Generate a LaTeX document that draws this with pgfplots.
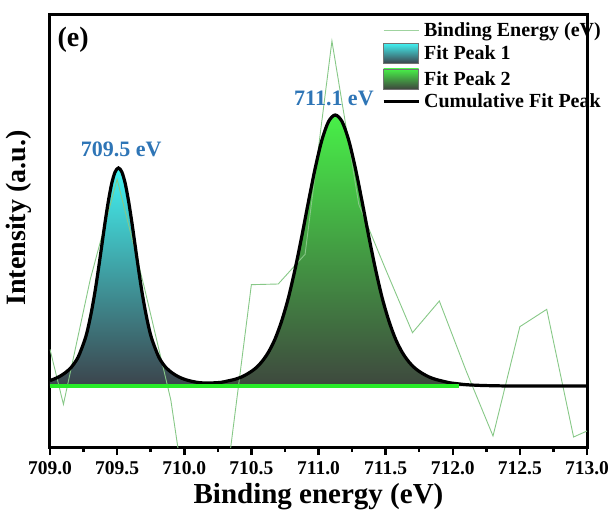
\documentclass[border=0pt]{standalone}
\usepackage{fontspec}
\setmainfont{Liberation Serif}
\usepackage{pgfplots}
\pgfplotsset{compat=1.18}
\definecolor{rawc}{RGB}{135,200,135}
\definecolor{p1top}{RGB}{66,242,242}
\definecolor{p1bot}{RGB}{60,68,76}
\definecolor{p2top}{RGB}{72,240,72}
\definecolor{p2bot}{RGB}{62,72,62}
\definecolor{basec}{RGB}{40,235,40}
\definecolor{lblc}{RGB}{46,117,182}
\colorlet{p1mid}{p1top!68!p1bot}
\colorlet{p2mid}{p2top!70!p2bot}
\begin{document}
\begin{tikzpicture}
\begin{axis}[
  scale only axis, width=537pt, height=432pt,
  xmin=709, xmax=713, ymin=-183, ymax=1113,
  enlargelimits=false, clip=true,
  xtick={709,709.5,...,713}, minor x tick num=1,
  ytick=\empty, xtick pos=bottom, tick align=outside,
  major tick length=8pt, minor tick length=5pt,
  tick style={line width=2.5pt, black},
  axis line style={line width=3pt},
  /pgf/number format/.cd, fixed, fixed zerofill, precision=1, assume math mode=true,
  /pgfplots/.cd,
  xticklabel style={font=\bfseries\fontsize{19.5}{19.5}\selectfont, yshift=-3pt},
  xlabel={Binding energy (eV)},
  ylabel={Intensity (a.u.)},
  x label style={font=\bfseries\fontsize{29}{29}\selectfont, at={(axis description cs:0.5,-0.116)}, anchor=center},
  y label style={font=\bfseries\fontsize{28}{28}\selectfont, at={(axis description cs:-0.058,0.53)}, anchor=center},
  legend cell align=left,
  legend style={draw=none, fill=none, at={(rel axis cs:0.618,0.983)}, anchor=north west,
    font=\bfseries\fontsize{20}{20}\selectfont, row sep=5pt, column sep=4pt, inner sep=0pt,
    nodes={inner sep=0pt}},
]
% Fit peak 1 (filled)
\addplot[draw=none, top color=p1top, middle color=p1mid, bottom color=p1bot, smooth, forget plot] coordinates {
(709.00,16.5) (709.01,17.7) (709.06,26.2) (709.11,38.6) (709.16,56.9) (709.21,87.0) (709.26,139.3) (709.285,177.2) (709.31,225.6) (709.335,282.5) (709.36,348.6) (709.385,419.2) (709.41,490.5) (709.435,555.2) (709.46,608.2) (709.485,642.2) (709.51,654.0) (709.535,642.2) (709.56,608.2) (709.585,555.2) (709.61,490.5) (709.635,419.2) (709.66,348.6) (709.685,282.5) (709.71,225.6) (709.735,177.2) (709.76,139.3) (709.81,87.0) (709.86,56.9) (709.91,38.6) (709.96,26.2) (710.01,17.7) (710.06,11.8) (710.11,7.2) (710.21,2.6) (710.31,0.7) (710.40,0)
} \closedcycle;
% Fit peak 2 (filled)
\addplot[draw=none, top color=p2top, middle color=p2mid, bottom color=p2bot, smooth, forget plot] coordinates {
(709.00,0) (709.925,0.7) (710.025,1.5) (710.125,3.3) (710.175,4.9) (710.225,7.3) (710.275,9.8) (710.325,14.6) (710.375,19.5) (710.425,26.8) (710.475,37.4) (710.525,51.2) (710.575,71.5) (710.625,100.0) (710.675,139.8) (710.725,194.3) (710.775,263.4) (710.825,349.6) (710.875,448.0) (710.925,552.8) (710.975,652.8) (711.025,737.4) (711.075,793.5) (711.125,813.0) (711.175,793.5) (711.225,737.4) (711.275,652.8) (711.325,552.8) (711.375,448.0) (711.425,349.6) (711.475,263.4) (711.525,194.3) (711.575,139.8) (711.625,100.0) (711.675,71.5) (711.725,51.2) (711.775,37.4) (711.825,26.8) (711.875,19.5) (711.925,14.6) (711.975,9.8) (712.025,7.3) (712.075,4.9) (712.125,3.3) (712.225,1.5) (712.325,0.7) (712.45,0)
} \closedcycle;
% Raw data
\addplot[rawc, line width=0.9pt, forget plot] coordinates {
(709.0,110) (709.1,-55) (709.3,320) (709.5,620) (709.7,300) (709.9,-42) (710.1,-585) (710.3,-330) (710.5,304) (710.7,306) (710.9,395) (711.1,1035) (711.3,545) (711.5,350) (711.7,160) (711.9,255) (712.1,45) (712.3,-150) (712.5,178) (712.7,230) (712.9,-153) (713.0,-135)
};
% Cumulative fit
\addplot[black, line width=3.2pt, smooth, forget plot] coordinates {
(709.00,16.5) (709.01,17.7) (709.06,26.2) (709.11,38.6) (709.16,56.9) (709.21,87.0) (709.26,139.3) (709.285,177.2) (709.31,225.6) (709.335,282.5) (709.36,348.6) (709.385,419.2) (709.41,490.5) (709.435,555.2) (709.46,608.2) (709.485,642.2) (709.51,654.0) (709.535,642.2) (709.56,608.2) (709.585,555.2) (709.61,490.5) (709.635,419.2) (709.66,348.6) (709.685,282.5) (709.71,225.6) (709.735,177.2) (709.76,139.3) (709.81,87.0) (709.86,56.9) (709.91,39.2) (709.96,27.1) (710.01,19.0) (710.06,13.7) (710.11,10.2) (710.175,8.7) (710.225,9.6) (710.275,11.0) (710.325,15.2) (710.375,19.8) (710.425,26.8) (710.475,37.4) (710.525,51.2) (710.575,71.5) (710.625,100.0) (710.675,139.8) (710.725,194.3) (710.775,263.4) (710.825,349.6) (710.875,448.0) (710.925,552.8) (710.975,652.8) (711.025,737.4) (711.075,793.5) (711.125,813.0) (711.175,793.5) (711.225,737.4) (711.275,652.8) (711.325,552.8) (711.375,448.0) (711.425,349.6) (711.475,263.4) (711.525,194.3) (711.575,139.8) (711.625,100.0) (711.675,71.5) (711.725,51.2) (711.775,37.4) (711.825,26.8) (711.875,19.5) (711.925,14.6) (711.975,9.8) (712.025,7.3) (712.075,4.9) (712.125,3.3) (712.225,1.5) (712.325,0.7) (712.45,0) (713.00,0)
};
% Baseline of fitted peaks
\addplot[basec, line width=3.5pt, forget plot] coordinates {(709.0,0) (712.05,0)};

\addlegendimage{legend image code/.code={\draw[rawc!80!white, line width=1pt] (0pt,0pt) -- (35pt,0pt);}}
\addlegendentry{Binding Energy (eV)}
\addlegendimage{legend image code/.code={\path[top color=p1top, middle color=p1mid, bottom color=p1bot, draw=black!55, line width=0.6pt] (0pt,-10pt) rectangle (35pt,10pt);}}
\addlegendentry{Fit Peak 1}
\addlegendimage{legend image code/.code={\path[top color=p2top, middle color=p2mid, bottom color=p2bot, draw=black!55, line width=0.6pt] (0pt,-10pt) rectangle (35pt,10pt);}}
\addlegendentry{Fit Peak 2}
\addlegendimage{legend image code/.code={\draw[black, line width=3pt] (0pt,0pt) -- (35pt,0pt);}}
\addlegendentry{Cumulative Fit Peak}

\node[text=lblc, font=\bfseries\fontsize{22}{22}\selectfont] at (axis cs:709.53,711) {709.5 eV};
\node[text=lblc, font=\bfseries\fontsize{22}{22}\selectfont] at (axis cs:711.115,864) {711.1 eV};
\node[font=\bfseries\fontsize{28}{28}\selectfont] at (rel axis cs:0.043,0.942) {(e)};
\end{axis}
\pgfresetboundingbox
\path[use as bounding box] (-50pt,-68pt) rectangle (560pt,447pt);
\end{tikzpicture}
\end{document}
